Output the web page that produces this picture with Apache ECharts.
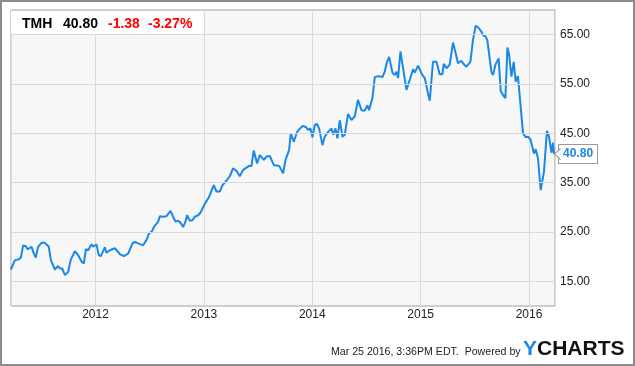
<!DOCTYPE html>
<html>
<head>
<meta charset="utf-8">
<script src="https://cdn.jsdelivr.net/npm/echarts@6/dist/echarts.min.js"></script>
<style>
html,body{margin:0;padding:0;background:#fff;}
#c{width:635px;height:366px;}
</style>
</head>
<body>
<div id="c"></div>
<script>
// Decimal-year dates
const dates = [
2011.219,2011.234,2011.256,2011.286,2011.311,2011.332,2011.357,2011.373,2011.410,2011.424,
2011.449,2011.470,2011.502,2011.532,2011.548,2011.569,2011.588,2011.625,2011.655,2011.671,
2011.692,2011.717,2011.747,2011.772,2011.809,2011.840,2011.871,2011.892,2011.911,2011.932,
2011.963,2011.978,2012.009,2012.030,2012.049,2012.086,2012.101,2012.132,2012.178,2012.208,
2012.224,2012.261,2012.301,2012.341,2012.363,2012.393,2012.409,2012.439,2012.471,2012.495,
2012.517,2012.538,2012.556,2012.578,2012.593,2012.624,2012.655,2012.692,2012.716,2012.738,
2012.762,2012.784,2012.808,2012.830,2012.845,2012.870,2012.895,2012.916,2012.947,2012.971,
2012.987,2013.008,2013.024,2013.048,2013.091,2013.116,2013.147,2013.172,2013.193,2013.239,
2013.269,2013.301,2013.331,2013.362,2013.417,2013.439,2013.460,2013.491,2013.516,2013.553,
2013.578,2013.608,2013.645,2013.694,2013.731,2013.753,2013.768,2013.786,2013.802,2013.829,
2013.860,2013.878,2013.910,2013.940,2013.961,2013.983,2014.002,2014.023,2014.044,2014.063,
2014.094,2014.115,2014.146,2014.177,2014.192,2014.214,2014.232,2014.254,2014.279,2014.300,
2014.330,2014.362,2014.392,2014.422,2014.454,2014.484,2014.509,2014.524,2014.555,2014.577,
2014.607,2014.623,2014.648,2014.669,2014.690,2014.709,2014.740,2014.761,2014.777,2014.792,
2014.814,2014.828,2014.869,2014.899,2014.930,2014.946,2014.976,2014.992,2015.017,2015.038,
2015.068,2015.084,2015.114,2015.146,2015.176,2015.201,2015.213,2015.238,2015.268,2015.299,
2015.324,2015.345,2015.376,2015.391,2015.422,2015.437,2015.459,2015.483,2015.508,2015.530,
2015.561,2015.576,2015.601,2015.616,2015.631,2015.653,2015.668,2015.690,2015.720,2015.739,
2015.760,2015.782,2015.801,2015.815,2015.838,2015.859,2015.877,2015.898,2015.914,2015.945,
2015.970,2015.991,2016.013,2016.028,2016.046,2016.062,2016.083,2016.108,2016.138,2016.166,
2016.185,2016.207,2016.221,2016.231
];
const prices = [
17.4,17.6,19.3,19.4,19.8,22.3,22.1,21.5,22.0,21.0,
19.8,22.0,22.8,22.8,23.2,22.0,19.3,17.4,18.1,17.6,
17.6,16.3,16.9,19.4,21.1,20.3,19.0,18.6,21.5,21.3,
22.5,22.0,22.5,20.3,20.1,21.9,20.8,21.3,21.7,21.0,
20.5,20.1,20.6,22.7,23.0,22.7,22.8,22.3,23.4,24.8,
25.0,26.0,26.2,27.1,28.2,28.1,28.2,29.3,28.1,27.1,
27.3,26.9,26.0,27.1,28.4,27.3,27.4,28.1,28.4,29.0,
29.1,30.7,30.5,32.1,34.5,33.2,33.2,34.5,35.0,36.3,
37.9,37.4,36.3,37.6,38.4,38.4,41.5,38.9,40.6,39.6,
40.3,40.4,38.6,38.4,36.9,39.6,39.9,41.6,45.0,43.3,
45.3,44.9,46.5,46.3,45.7,46.0,44.2,46.7,46.9,46.0,
42.6,44.3,45.3,46.0,44.7,46.0,44.0,47.6,44.3,44.7,
48.9,47.7,48.4,51.8,49.7,49.6,50.7,49.7,52.1,56.4,
56.6,57.0,56.4,57.5,59.5,60.5,57.3,56.8,57.5,56.2,
61.6,61.8,53.8,55.8,58.0,57.3,58.7,58.9,56.8,56.2,
53.1,51.6,59.5,59.5,57.0,57.0,59.1,58.2,58.9,63.4,
61.2,59.2,59.7,59.2,58.5,58.2,59.5,63.9,66.8,66.5,
65.6,64.9,64.6,63.8,64.1,57.5,56.8,58.9,60.2,53.6,
52.8,52.1,62.4,61.2,56.5,59.5,55.5,56.6,56.6,45.0,
44.2,44.3,43.8,44.0,40.9,41.8,39.9,33.5,37.2,45.5,
44.3,41.1,43.1,40.8
];
const yTickLabels = [15, 25, 35, 45, 55, 65];
const ticker = 'TMH';
const lastPrice = '40.80';
const change = '-1.38';
const changePct = '-3.27%';
const footerText = 'Mar 25 2016, 3:36PM EDT.  Powered by';

const lineColor = '#1a88e6';
const seriesData = dates.map((d, i) => [d, prices[i]]);
const last = seriesData[seriesData.length - 1];
const FONT = '"Liberation Sans", Arial, sans-serif';

const chart = echarts.init(document.getElementById('c'), null, {renderer: 'canvas'});
chart.setOption({
  animation: false,
  backgroundColor: '#fff',
  grid: {
    left: 11, top: 10, right: 80, bottom: 60,
    show: true, backgroundColor: '#f7f7f7', borderColor: '#a0a0a0', borderWidth: 1
  },
  xAxis: {
    type: 'value', min: 2011.22, max: 2016.24, splitNumber: 5,
    axisLine: {show: false}, axisTick: {show: false},
    axisLabel: {
      showMinLabel: false, showMaxLabel: false, margin: 3,
      color: '#222', fontSize: 12, fontFamily: FONT,
      formatter: v => String(Math.round(v))
    },
    splitLine: {show: true, lineStyle: {color: '#dadada', width: 1}}
  },
  yAxis: {
    type: 'value', position: 'right', min: 10, max: 70, interval: 5,
    axisLine: {show: false}, axisTick: {show: false},
    axisLabel: {
      margin: 5, color: '#222', fontSize: 12, fontFamily: FONT,
      formatter: v => (yTickLabels.indexOf(v) >= 0 ? v.toFixed(2) : '')
    },
    splitLine: {show: false}
  },
  series: [
    {
      type: 'line', data: seriesData, symbol: 'none', silent: true, z: 1,
      lineStyle: {opacity: 0},
      markLine: {
        silent: true, symbol: ['none', 'none'], label: {show: false},
        lineStyle: {color: '#dadada', type: 'solid', width: 1},
        data: yTickLabels.map(v => ({yAxis: v}))
      }
    },
    {
      type: 'line', data: seriesData, symbol: 'none', z: 3,
      lineStyle: {color: lineColor, width: 2},
      endLabel: {
        show: true, formatter: () => last[1].toFixed(2),
        color: lineColor, fontWeight: 'bold', fontSize: 12, fontFamily: FONT,
        backgroundColor: '#fff', borderColor: '#999', borderWidth: 1,
        padding: [3, 4, 3, 4], distance: 5
      },
      markPoint: {
        silent: true,
        symbol: 'path://M6,0L0,5L6,10',
        symbolSize: [6, 11], symbolOffset: [3.5, 0],
        symbolKeepAspect: false,
        itemStyle: {color: '#fff', borderColor: '#999', borderWidth: 1},
        label: {show: false},
        data: [{coord: last}]
      }
    }
  ],
  graphic: [
    {type: 'rect', shape: {x: 1, y: 1, width: 633, height: 364},
     style: {fill: 'none', stroke: '#8c8c8c', lineWidth: 2}, z: 100},
    {type: 'rect', shape: {x: 11, y: 11, width: 192, height: 23},
     style: {fill: '#fff'}, z: 50},
    {type: 'text', x: 22, y: 24, z: 51,
     style: {text: ticker, font: 'bold 14px ' + FONT, fill: '#000', verticalAlign: 'middle'}},
    {type: 'text', x: 63, y: 24, z: 51,
     style: {text: lastPrice, font: 'bold 14px ' + FONT, fill: '#000', verticalAlign: 'middle'}},
    {type: 'text', x: 108, y: 24, z: 51,
     style: {text: change, font: 'bold 14px ' + FONT, fill: '#f00', verticalAlign: 'middle'}},
    {type: 'text', x: 148, y: 24, z: 51,
     style: {text: changePct, font: 'bold 14px ' + FONT, fill: '#f00', verticalAlign: 'middle'}},
    {type: 'text', x: 331, y: 352.5, z: 51,
     style: {text: footerText, font: '10.6px ' + FONT, fill: '#222', verticalAlign: 'middle'}},
    {type: 'text', x: 523, y: 349.5, z: 51,
     style: {text: 'Y', font: 'bold 21px ' + FONT, fill: '#1a8ae6', verticalAlign: 'middle'}},
    {type: 'text', x: 537, y: 349.5, z: 51,
     style: {text: 'CHARTS', font: 'bold 21px ' + FONT, fill: '#111', verticalAlign: 'middle'}}
  ]
});
</script>
</body>
</html>
